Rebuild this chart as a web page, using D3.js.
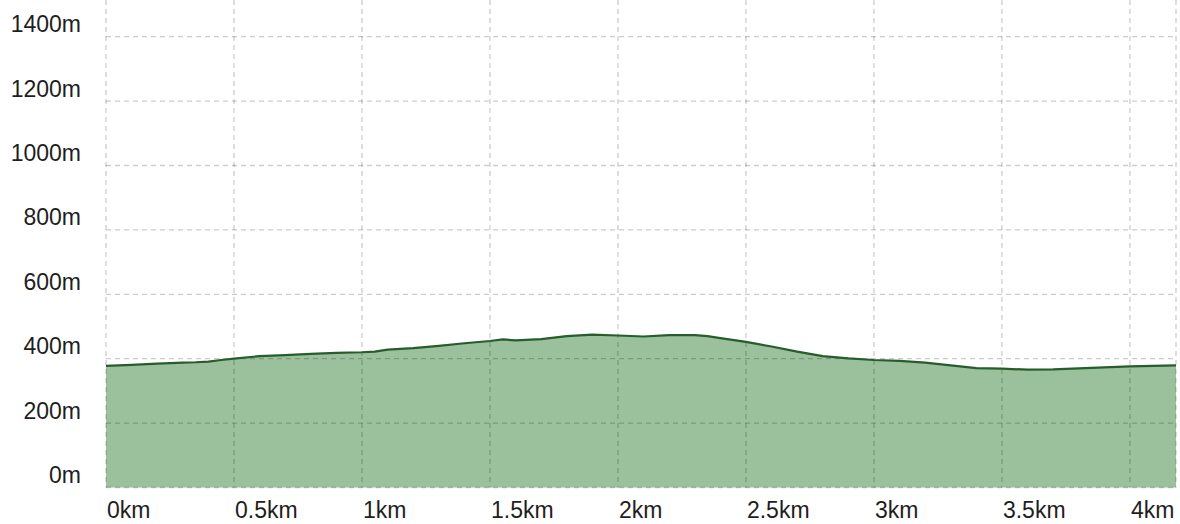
<!DOCTYPE html>
<html>
<head>
<meta charset="utf-8">
<script src="https://cdn.jsdelivr.net/npm/d3@7"></script>
<style>
  body { margin: 0; background: #fff; }
  text { font-family: "Liberation Sans", Arial, sans-serif; fill: #1e1e1e; }
</style>
</head>
<body>
<svg id="chart"></svg>
<script>
// elevation profile, distance in km and height in m
const distKm = [0, 0.1, 0.2, 0.3, 0.35, 0.4, 0.45, 0.5, 0.6, 0.7, 0.8, 0.9, 1.0, 1.05, 1.1, 1.2, 1.3, 1.4, 1.5, 1.55, 1.6, 1.7, 1.8, 1.9, 2.0, 2.1, 2.2, 2.3, 2.35, 2.4, 2.5, 2.6, 2.7, 2.8, 2.9, 3.0, 3.1, 3.2, 3.3, 3.4, 3.5, 3.6, 3.7, 3.8, 3.9, 4.0, 4.18];
const elevM = [378, 381, 385, 388, 389, 391, 396, 400, 408, 411, 415, 418, 420, 422, 428, 433, 440, 448, 455, 460, 457, 461, 470, 475, 472, 469, 473, 473, 470, 464, 452, 438, 422, 408, 401, 396, 393, 388, 379, 371, 369, 366, 367, 370, 373, 376, 379];

const xTicks = [0, 0.5, 1, 1.5, 2, 2.5, 3, 3.5, 4];
const yTicks = [0, 200, 400, 600, 800, 1000, 1200, 1400];

const width = 1180, height = 524;
const plotLeft = 106, plotRight = 1176, plotBottom = 487.5, plotTop = 0;

const svg = d3.select("#chart").attr("width", width).attr("height", height);

const x = d3.scaleLinear().domain([0, 4.18]).range([plotLeft, plotRight]);
const y = d3.scaleLinear().domain([0, 1514]).range([plotBottom, plotTop]);

const data = distKm.map((d, i) => ({ d: d, e: elevM[i] }));

// filled area under profile
const area = d3.area()
    .x(p => x(p.d))
    .y0(y(0))
    .y1(p => y(p.e));

svg.append("path")
    .datum(data)
    .attr("d", area)
    .style("fill", "#9bc09c");

// grid on top of the fill
const grid = svg.append("g");
grid.selectAll(".h")
    .data(yTicks)
    .enter().append("line")
    .attr("x1", plotLeft).attr("x2", plotRight)
    .attr("y1", d => y(d)).attr("y2", d => y(d));
grid.selectAll(".v")
    .data(xTicks.concat([4.18]))
    .enter().append("line")
    .attr("x1", d => x(d)).attr("x2", d => x(d))
    .attr("y1", plotTop).attr("y2", plotBottom);
grid.selectAll("line")
    .style("stroke", "rgba(0,0,0,0.2)")
    .style("stroke-width", 1.3)
    .style("stroke-dasharray", "5,4");

// profile line
const line = d3.line().x(p => x(p.d)).y(p => y(p.e));
svg.append("path")
    .datum(data)
    .attr("d", line)
    .style("fill", "none")
    .style("stroke", "#275c2c")
    .style("stroke-width", 2.2);

// y labels sit just above their grid line
svg.append("g").selectAll("text")
    .data(yTicks)
    .enter().append("text")
    .attr("x", 81)
    .attr("y", d => y(d) - 4.5)
    .style("text-anchor", "end")
    .style("font-size", "23px")
    .text(d => d + "m");

// x labels start at their tick
svg.append("g").selectAll("text")
    .data(xTicks)
    .enter().append("text")
    .attr("x", d => x(d) + 1)
    .attr("y", 518)
    .style("text-anchor", "start")
    .style("font-size", "23px")
    .text(d => d + "km");
</script>
</body>
</html>
